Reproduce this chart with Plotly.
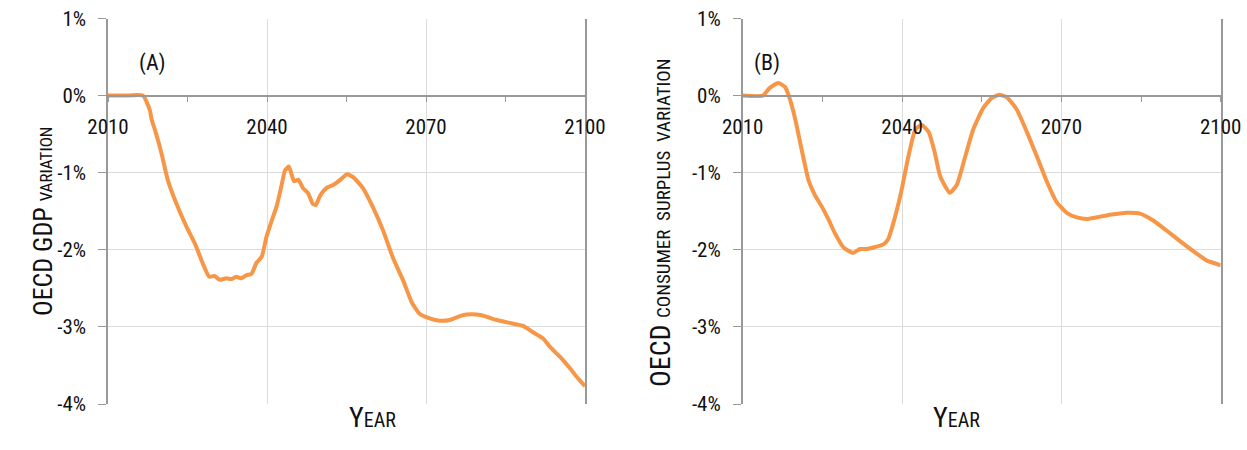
import plotly.graph_objects as go

# Panel A: OECD GDP variation (%)
years_a = [2010, 2013, 2016.6, 2017.9, 2018.2, 2019.1, 2020.1, 2021.3, 2022.9, 2024.8, 2026.4,
           2027.9, 2029.1, 2030.1, 2031.1, 2032.3, 2033.3, 2034.2, 2035.2, 2036.1, 2037.1,
           2038.0, 2039.0, 2039.9, 2040.8, 2041.8, 2042.7, 2043.4, 2044.1, 2044.5, 2045.1,
           2045.9, 2046.8, 2047.8, 2048.6, 2049.2, 2050.0, 2051.2, 2052.5, 2053.7, 2055.1,
           2056.3, 2058.1, 2060.0, 2061.9, 2063.8, 2065.7, 2067.3, 2068.8, 2070.7, 2072.6,
           2074.5, 2076.4, 2077.7, 2079.5, 2081.1, 2082.7, 2084.6, 2086.5, 2088.4, 2090.2,
           2092.1, 2093.4, 2095.3, 2097.2, 2098.7, 2100]
gdp = [0.0, 0.0, 0.0, -0.19, -0.3, -0.5, -0.75, -1.10, -1.40, -1.70, -1.92,
       -2.18, -2.35, -2.34, -2.39, -2.37, -2.38, -2.35, -2.37, -2.33, -2.31,
       -2.17, -2.09, -1.83, -1.64, -1.44, -1.18, -0.97, -0.92, -0.99, -1.11,
       -1.09, -1.20, -1.27, -1.40, -1.42, -1.30, -1.20, -1.16, -1.10, -1.02,
       -1.06, -1.20, -1.45, -1.75, -2.11, -2.40, -2.68, -2.83, -2.89, -2.92,
       -2.91, -2.86, -2.84, -2.84, -2.86, -2.90, -2.93, -2.96, -2.99, -3.07,
       -3.15, -3.26, -3.39, -3.54, -3.67, -3.77]

# Panel B: OECD consumer surplus variation (%)
years_b = [2010, 2013.8, 2015.1, 2016.7, 2018.0, 2018.9, 2019.9, 2021.1, 2022.4, 2023.6,
           2024.9, 2026.1, 2027.4, 2029.0, 2030.8, 2032.1, 2033.4, 2034.6, 2036.5, 2037.4,
           2038.7, 2039.9, 2041.2, 2042.5, 2043.7, 2045.0, 2046.2, 2047.2, 2049.0, 2050.3,
           2051.9, 2053.4, 2055.3, 2056.9, 2058.3, 2059.7, 2061.6, 2063.5, 2065.4, 2067.3,
           2069.1, 2071.0, 2072.9, 2074.8, 2077.3, 2079.8, 2082.3, 2084.8, 2087.3, 2089.8,
           2092.4, 2094.9, 2097.4, 2100]
surplus = [0.0, 0.0, 0.10, 0.165, 0.11, -0.05, -0.31, -0.70, -1.10, -1.29,
           -1.44, -1.60, -1.79, -1.97, -2.04, -1.99, -1.99, -1.97, -1.93, -1.86,
           -1.57, -1.23, -0.79, -0.44, -0.38, -0.47, -0.75, -1.05, -1.26, -1.16,
           -0.79, -0.44, -0.16, -0.03, 0.01, -0.02, -0.18, -0.47, -0.79, -1.12,
           -1.38, -1.52, -1.58, -1.60, -1.57, -1.54, -1.52, -1.53, -1.62, -1.75,
           -1.89, -2.02, -2.14, -2.20]

y_ticks = [1, 0, -1, -2, -3, -4]
y_labels = ["1%", "0%", "-1%", "-2%", "-3%", "-4%"]
x_ticks = [2010, 2040, 2070, 2100]

FONT = "Roboto Condensed, Liberation Sans Narrow, DejaVu Sans Condensed, Roboto, sans-serif"
ORANGE = "#F79646"
W, H = 1247, 450

fig = go.Figure()
fig.add_scatter(x=years_a, y=gdp, mode="lines", line=dict(color=ORANGE, width=4, shape="spline", smoothing=0.5),
                xaxis="x", yaxis="y")
fig.add_scatter(x=years_b, y=surplus, mode="lines", line=dict(color=ORANGE, width=4, shape="spline", smoothing=0.5),
                xaxis="x2", yaxis="y2")

ydom = [(H - 404) / H, (H - 18.5) / H]
zero_pos = ydom[0] + 0.8 * (ydom[1] - ydom[0])
xdom1 = [108 / W, 585 / W]
xdom2 = [742.7 / W, 1220.7 / W]

xcommon = dict(range=[2010, 2100], tickvals=x_ticks, ticks="outside", ticklen=6, tickcolor="#999",
               showline=True, linecolor="#999", linewidth=1.5, showgrid=True, gridcolor="#dcdcdc",
               zeroline=False, anchor="free", position=zero_pos, ticklabelstandoff=6, automargin=False,
               tickfont=dict(family=FONT, size=21, color="#111"),
               minor=dict(tickvals=[2025, 2055, 2085], ticks="outside", ticklen=6, tickcolor="#999", showgrid=False))
ycommon = dict(range=[-4, 1], tickvals=y_ticks, ticktext=y_labels, ticks="outside", ticklen=8, tickcolor="#999",
               showline=True, linecolor="#999", linewidth=1.5, mirror=True, showgrid=True, gridcolor="#dcdcdc",
               zeroline=False, domain=ydom, ticklabelstandoff=8, automargin=False,
               tickfont=dict(family=FONT, size=21, color="#111"))

fig.update_layout(
    width=W, height=H, margin=dict(l=0, r=0, t=0, b=0),
    plot_bgcolor="white", paper_bgcolor="white", showlegend=False,
    xaxis=dict(xcommon, domain=xdom1),
    yaxis=dict(ycommon, anchor="x"),
    xaxis2=dict(xcommon, domain=xdom2),
    yaxis2=dict(ycommon, anchor="x2"),
)

fig.add_annotation(x=26 / W, y=(H - 222) / H, xref="paper", yref="paper", textangle=-90, showarrow=False,
                   text='OECD GDP <span style="font-size:17px">VARIATION</span>',
                   font=dict(family=FONT, size=26, color="#111"))
fig.add_annotation(x=660 / W, y=(H - 223) / H, xref="paper", yref="paper", textangle=-90, showarrow=False,
                   text='OECD <span style="font-size:19px">CONSUMER  SURPLUS  VARIATION</span>',
                   font=dict(family=FONT, size=28, color="#111"))
for cx in [(108 + 585) / 2, (742.7 + 1220.7) / 2]:
    fig.add_annotation(x=cx / W, y=(H - 436) / H, xref="paper", yref="paper", showarrow=False,
                       text='Y<span style="font-size:20px">EAR</span>',
                       font=dict(family=FONT, size=28, color="#111"))
fig.add_annotation(x=137 / W, y=(H - 48) / H, xref="paper", yref="paper", showarrow=False,
                   text="(A)", font=dict(family=FONT, size=22, color="#111"))
fig.add_annotation(x=767 / W, y=(H - 48) / H, xref="paper", yref="paper", showarrow=False,
                   text="(B)", font=dict(family=FONT, size=22, color="#111"))

# page body has a default 8px margin; drop it so the figure fills the window
fig.write_html("out.html", config={"displayModeBar": False},
               post_script="document.body.style.margin='0px';")
